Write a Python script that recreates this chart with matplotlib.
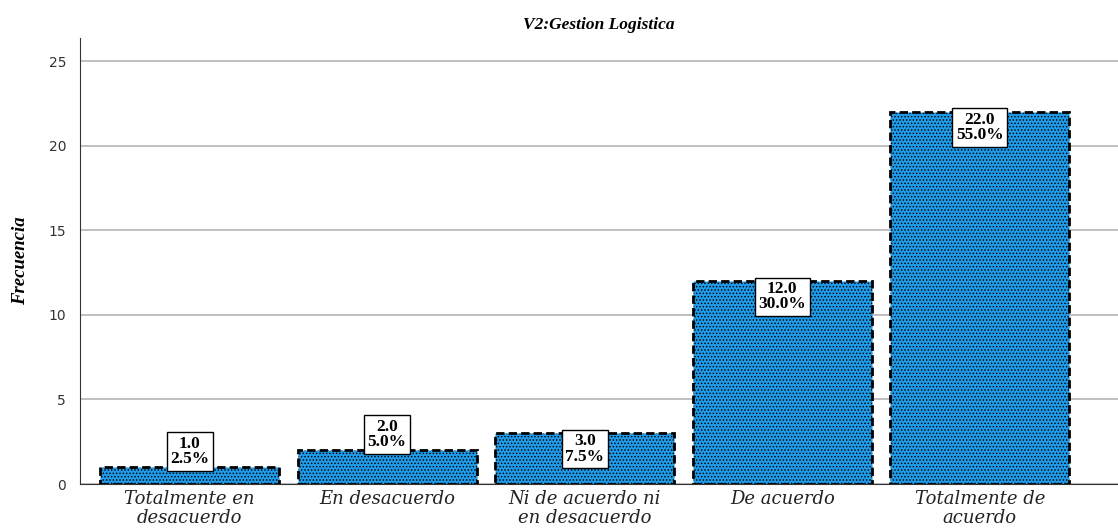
import matplotlib.pyplot as plt
import numpy as np

categories = ['Totalmente en\ndesacuerdo', 'En desacuerdo', 'Ni de acuerdo ni\nen desacuerdo',
              'De acuerdo', 'Totalmente de\nacuerdo']
counts = [1, 2, 3, 12, 22]
percents = [2.5, 5.0, 7.5, 30.0, 55.0]

plt.rcParams['hatch.linewidth'] = 0.65
plt.rcParams['hatch.color'] = '#101010'

fig = plt.figure(figsize=(11.18, 5.31), dpi=100)
ax = fig.add_axes([0.0716, 0.0885, 0.9284, 0.8395])

x = np.arange(len(categories))
bars = ax.bar(x, counts, width=0.905, color='#1e9be9', edgecolor='black',
              linewidth=2.0, linestyle=(0, (3, 1.5)), hatch='.....', zorder=3)

ax.set_xlim(-0.555, 4.70)
ax.set_ylim(0, 26.35)
ax.set_yticks([0, 5, 10, 15, 20, 25])
ax.yaxis.grid(True, color='#b4b4b4', linewidth=1.2, zorder=0)
ax.set_axisbelow(True)

for side in ['top', 'right']:
    ax.spines[side].set_visible(False)
ax.spines['left'].set_color('#333333')
ax.spines['bottom'].set_color('#333333')
ax.tick_params(axis='y', length=0, labelsize=10, labelcolor='#333333', pad=10)
ax.tick_params(axis='x', length=0, pad=4)

ax.set_xticks(x)
ax.set_xticklabels(categories, fontsize=13, fontstyle='italic', family='DejaVu Serif',
                   color='#222222', linespacing=1.1)

ax.set_ylabel('Frecuencia', fontsize=13.5, fontweight='bold', fontstyle='italic',
              family='Liberation Serif', labelpad=14)
ax.set_title('V2:Gestion Logistica', fontsize=12.5, fontweight='bold', fontstyle='italic',
             family='Liberation Serif', pad=7)

for xi, c, p in zip(x, counts, percents):
    inside = c >= 3
    ax.text(xi, c, f'{c:.1f}\n{p:.1f}%', ha='center', va='top' if inside else 'bottom',
            fontsize=12.5, fontweight='bold', family='Liberation Serif', linespacing=0.95,
            bbox=dict(boxstyle='square,pad=0.2', facecolor='white', edgecolor='black',
                      linewidth=1.0), zorder=5)

fig.savefig('out.png', dpi=100)
